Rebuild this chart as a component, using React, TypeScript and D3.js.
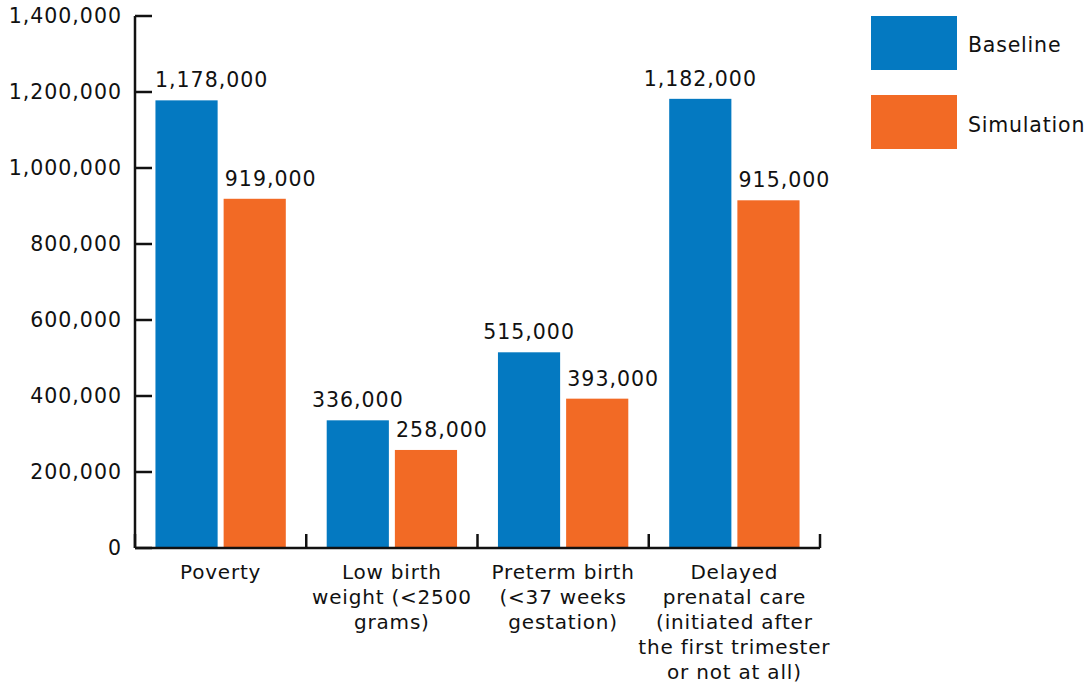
import React from "react";
import * as d3 from "d3";

const categories: string[][] = [
  ["Poverty"],
  ["Low birth", "weight (<2500", "grams)"],
  ["Preterm birth", "(<37 weeks", "gestation)"],
  ["Delayed", "prenatal care", "(initiated after", "the first trimester", "or not at all)"],
];
const seriesNames = ["Baseline", "Simulation"];
const baseline = [1178000, 336000, 515000, 1182000];
const simulation = [919000, 258000, 393000, 915000];
const yTicks = [0, 200000, 400000, 600000, 800000, 1000000, 1200000, 1400000];
const colors = ["#0479c1", "#f26a25"];

const FONT = "'DejaVu Sans', sans-serif";
const FS = 20.5;
const LS = 1;
// horizontal nudge of value labels per series (labels of the second series sit right of centre)
const labelNudge = [0, 16];

export default function App() {
  const W = 1091, H = 685;
  const x0 = 135, x1 = 820, yTop = 16, yBot = 548;
  const y = d3.scaleLinear().domain([0, 1400000]).range([yBot, yTop]);
  const xb = d3.scaleBand<number>().domain(d3.range(categories.length)).range([x0, x1]).paddingInner(0).paddingOuter(0);
  const xs = d3.scaleBand<number>().domain([0, 1]).range([0, xb.bandwidth()]).paddingInner(0.088).paddingOuter(0.3);
  const fmt = d3.format(",");
  const series = [baseline, simulation];
  const estWidth = (s: string) =>
    s.split("").reduce((a, c) => a + (c === "," ? 0.318 * FS : 0.636 * FS) + LS, 0);
  return (
    <svg width={W} height={H} style={{ position: "absolute", left: 0, top: 0 }}>
      <g fontFamily={FONT} fontSize={FS} letterSpacing={LS} fill="#111">
        {series.map((vals, si) =>
          vals.map((v, i) => {
            const bx = xb(i)! + xs(si)!;
            const label = fmt(v);
            const w = estWidth(label);
            const cx = bx + xs.bandwidth() / 2 + labelNudge[si];
            const left = Math.max(cx - w / 2, x0 + 20);
            return (
              <g key={`${si}-${i}`}>
                <rect x={bx} y={y(v)} width={xs.bandwidth()} height={yBot - y(v)} fill={colors[si]} />
                <text x={left} y={y(v) - 13} textAnchor="start">{label}</text>
              </g>
            );
          })
        )}
        <line x1={x0} x2={x0} y1={yTop} y2={yBot} stroke="#111" strokeWidth={2.5} />
        <line x1={x0} x2={x1} y1={yBot} y2={yBot} stroke="#111" strokeWidth={2.5} />
        {yTicks.map((t) => (
          <g key={t}>
            <line x1={x0} x2={x0 + 17} y1={y(t)} y2={y(t)} stroke="#111" strokeWidth={2.5} />
            <text x={122} y={y(t)} dy="0.36em" textAnchor="end">{fmt(t)}</text>
          </g>
        ))}
        {d3.range(categories.length + 1).map((i) => {
          const tx = i === categories.length ? x1 : xb(i)!;
          return <line key={i} x1={tx} x2={tx} y1={yBot} y2={yBot - 14} stroke="#111" strokeWidth={2.5} />;
        })}
        <g fontSize={20} letterSpacing={0.8}>
          {categories.map((lines, i) => (
            <text key={i} x={xb(i)! + xb.bandwidth() / 2} y={579} textAnchor="middle">
              {lines.map((l, j) => (
                <tspan key={j} x={xb(i)! + xb.bandwidth() / 2} dy={j === 0 ? 0 : 25}>{l}</tspan>
              ))}
            </text>
          ))}
        </g>
        <g letterSpacing={0.8}>
          {seriesNames.map((n, i) => (
            <g key={n}>
              <rect x={871} y={16 + i * 79} width={86} height={54} fill={colors[i]} />
              <text x={968} y={45 + i * 80} dy="0.36em">{n}</text>
            </g>
          ))}
        </g>
      </g>
    </svg>
  );
}
